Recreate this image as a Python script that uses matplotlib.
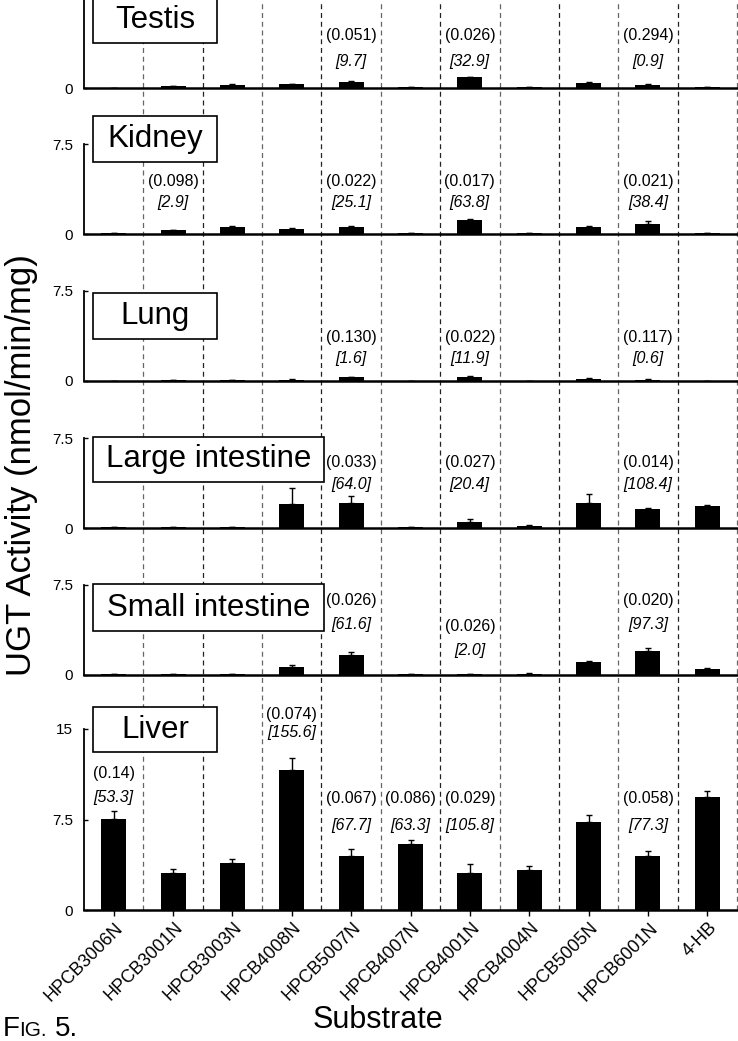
import numpy as np
import matplotlib.pyplot as plt
from matplotlib.patches import Rectangle
import matplotlib.transforms as mtransforms

plt.rcParams['font.family'] = ['Liberation Sans', 'DejaVu Sans']

# ---- data -------------------------------------------------------------
substrates = ["HPCB3006N", "HPCB3001N", "HPCB3003N", "HPCB4008N", "HPCB5007N",
              "HPCB4007N", "HPCB4001N", "HPCB4004N", "HPCB5005N", "HPCB6001N", "4-HB"]

testis_mean = [0.02, 0.14, 0.28, 0.33, 0.50, 0.05, 0.92, 0.10, 0.45, 0.28, 0.05]
testis_err = [0.00, 0.02, 0.04, 0.04, 0.06, 0.01, 0.03, 0.02, 0.05, 0.04, 0.01]

kidney_mean = [0.05, 0.30, 0.60, 0.45, 0.60, 0.05, 1.20, 0.10, 0.60, 0.85, 0.10]
kidney_err = [0.01, 0.05, 0.06, 0.05, 0.07, 0.01, 0.03, 0.02, 0.05, 0.22, 0.02]

lung_mean = [0.00, 0.05, 0.07, 0.08, 0.30, 0.00, 0.35, 0.00, 0.20, 0.08, 0.00]
lung_err = [0.00, 0.01, 0.01, 0.06, 0.03, 0.00, 0.03, 0.00, 0.02, 0.06, 0.00]

large_mean = [0.05, 0.05, 0.10, 2.00, 2.10, 0.08, 0.50, 0.20, 2.10, 1.60, 1.85]
large_err = [0.01, 0.02, 0.01, 1.35, 0.55, 0.01, 0.25, 0.02, 0.70, 0.08, 0.08]

small_mean = [0.05, 0.08, 0.08, 0.67, 1.70, 0.08, 0.08, 0.10, 1.10, 2.00, 0.50]
small_err = [0.02, 0.02, 0.01, 0.16, 0.20, 0.01, 0.01, 0.03, 0.10, 0.28, 0.10]

liver_mean = [7.53, 3.07, 3.88, 11.63, 4.50, 5.43, 3.07, 3.30, 7.28, 4.50, 9.36]
liver_err = [0.64, 0.31, 0.32, 0.94, 0.57, 0.36, 0.75, 0.33, 0.62, 0.43, 0.50]

# (Km) and [Vmax] notes per tissue, keyed by substrate index
testis_kin = {4: ("0.051", "9.7"), 6: ("0.026", "32.9"), 9: ("0.294", "0.9")}
kidney_kin = {1: ("0.098", "2.9"), 4: ("0.022", "25.1"), 6: ("0.017", "63.8"), 9: ("0.021", "38.4")}
lung_kin = {4: ("0.130", "1.6"), 6: ("0.022", "11.9"), 9: ("0.117", "0.6")}
large_kin = {4: ("0.033", "64.0"), 6: ("0.027", "20.4"), 9: ("0.014", "108.4")}
small_kin = {4: ("0.026", "61.6"), 6: ("0.026", "2.0"), 9: ("0.020", "97.3")}
liver_kin = {0: ("0.14", "53.3"), 3: ("0.074", "155.6"), 4: ("0.067", "67.7"),
             5: ("0.086", "63.3"), 6: ("0.029", "105.8"), 9: ("0.058", "77.3")}

# ---- layout (pixels of a 738 x 1041 canvas) ---------------------------
W, H = 738, 1041
AX_L, AX_R = 84, 737

# name, data, err, notes, baseline px, height px, ymax, box (x0, x1, top, bottom),
# note rows (km_y, vmax_y) in data units, per-index overrides
panels = [
    ("Testis", testis_mean, testis_err, testis_kin, 88, 90, 7.5,
     (93, 217, -3, 43), (4.4, 2.2), {}),
    ("Kidney", kidney_mean, kidney_err, kidney_kin, 234, 90, 7.5,
     (93, 217, 116, 162), (4.4, 2.65), {}),
    ("Lung", lung_mean, lung_err, lung_kin, 381, 90, 7.5,
     (93, 217, 293, 339), (3.6, 1.9), {}),
    ("Large intestine", large_mean, large_err, large_kin, 528, 90, 7.5,
     (93, 324, 437, 482), (5.5, 3.6), {}),
    ("Small intestine", small_mean, small_err, small_kin, 675, 90, 7.5,
     (93, 324, 584, 631), (6.2, 4.25), {6: (4.0, 2.0)}),
    ("Liver", liver_mean, liver_err, liver_kin, 910, 181, 15,
     (93, 217, 707, 752), (9.2, 7.0), {0: (11.35, 9.3), 3: (16.2, 14.7)}),
]

fig = plt.figure(figsize=(W / 100, H / 100), dpi=100)
x = np.arange(len(substrates))

# dashed separators running through all panels
bg = fig.add_axes([AX_L / W, 1 - 910 / H, (AX_R - AX_L) / W, 910 / H], zorder=0)
bg.set_xlim(-0.5, len(substrates) - 0.5)
bg.set_ylim(0, 1)
bg.axis("off")
for k, b in enumerate(np.arange(0.5, len(substrates), 1.0)):
    col = "#222222" if k % 2 else "#666666"
    bg.axvline(b, color=col, lw=0.9, ls=(0, (4, 3)), clip_on=False)

for (name, mean, err, kin, base, hpx, ymax, box, rows, over) in panels:
    ax = fig.add_axes([AX_L / W, 1 - base / H, (AX_R - AX_L) / W, hpx / H], zorder=2)
    ax.set_facecolor("none")
    ax.bar(x, mean, width=0.42, color="black", zorder=3)
    ax.errorbar(x, mean, yerr=[np.zeros(len(err)), err], fmt="none",
                ecolor="black", elinewidth=1, capsize=2.5, capthick=1, zorder=3)
    ax.set_xlim(-0.5, len(substrates) - 0.5)
    ax.set_ylim(0, ymax)
    for s in ["top", "right"]:
        ax.spines[s].set_visible(False)
    ax.spines["left"].set_linewidth(1.3)
    ax.spines["bottom"].set_linewidth(1.8)
    if ymax > 7.5:
        ax.set_yticks([0, 7.5, 15])
        ax.set_yticklabels(["0", "7.5", "15"])
    elif name == "Testis":
        # top of this panel is outside the page
        ax.set_yticks([0])
        ax.set_yticklabels(["0"])
    else:
        ax.set_yticks([0, 7.5])
        ax.set_yticklabels(["0", "7.5"])
    ax.tick_params(axis="y", direction="in", length=3, width=1, labelsize=11, pad=8)

    if name == "Liver":
        ax.set_xticks(x)
        ax.set_xticklabels(substrates, rotation=45, ha="right", va="center",
                           rotation_mode="anchor", fontsize=13)
        ax.tick_params(axis="x", direction="out", length=4, width=1, pad=7)
        off = mtransforms.ScaledTranslation(7 / 100, 0, fig.dpi_scale_trans)
        for lab in ax.get_xticklabels():
            lab.set_transform(lab.get_transform() + off)
    else:
        ax.set_xticks([])

    for i, (km, vmax) in kin.items():
        ky, vy = over.get(i, rows)
        ax.text(i, ky, f"({km})", ha="center", va="center", fontsize=11.5,
                clip_on=False, zorder=4)
        ax.text(i, vy, f"[{vmax}]", ha="center", va="center", fontsize=11.5,
                style="italic", clip_on=False, zorder=4)

    # tissue label box
    bx0, bx1, btop, bbot = box
    rect = Rectangle((bx0 / W, 1 - bbot / H), (bx1 - bx0) / W, (bbot - btop) / H,
                     transform=fig.transFigure, facecolor="white", edgecolor="black",
                     lw=1.2, zorder=5)
    fig.add_artist(rect)
    fig.text((bx0 + bx1) / 2 / W, 1 - (btop + bbot) / 2 / H, name, ha="center",
             va="center", fontsize=22.5, zorder=6)

fig.text(22 / W, 1 - 465 / H, "UGT Activity (nmol/min/mg)", rotation=90,
         ha="center", va="center", fontsize=25)
fig.text(378 / W, 1 - 1020 / H, "Substrate", ha="center", va="center", fontsize=22)

# "FIG. 5." in small caps
fig.text(3 / W, 1 - 1036 / H, "F", ha="left", va="baseline", fontsize=20)
fig.text(19.5 / W, 1 - 1036 / H, "IG.", ha="left", va="baseline", fontsize=15)
fig.text(55 / W, 1 - 1036 / H, "5.", ha="left", va="baseline", fontsize=20)

fig.savefig("out.png", dpi=100)
